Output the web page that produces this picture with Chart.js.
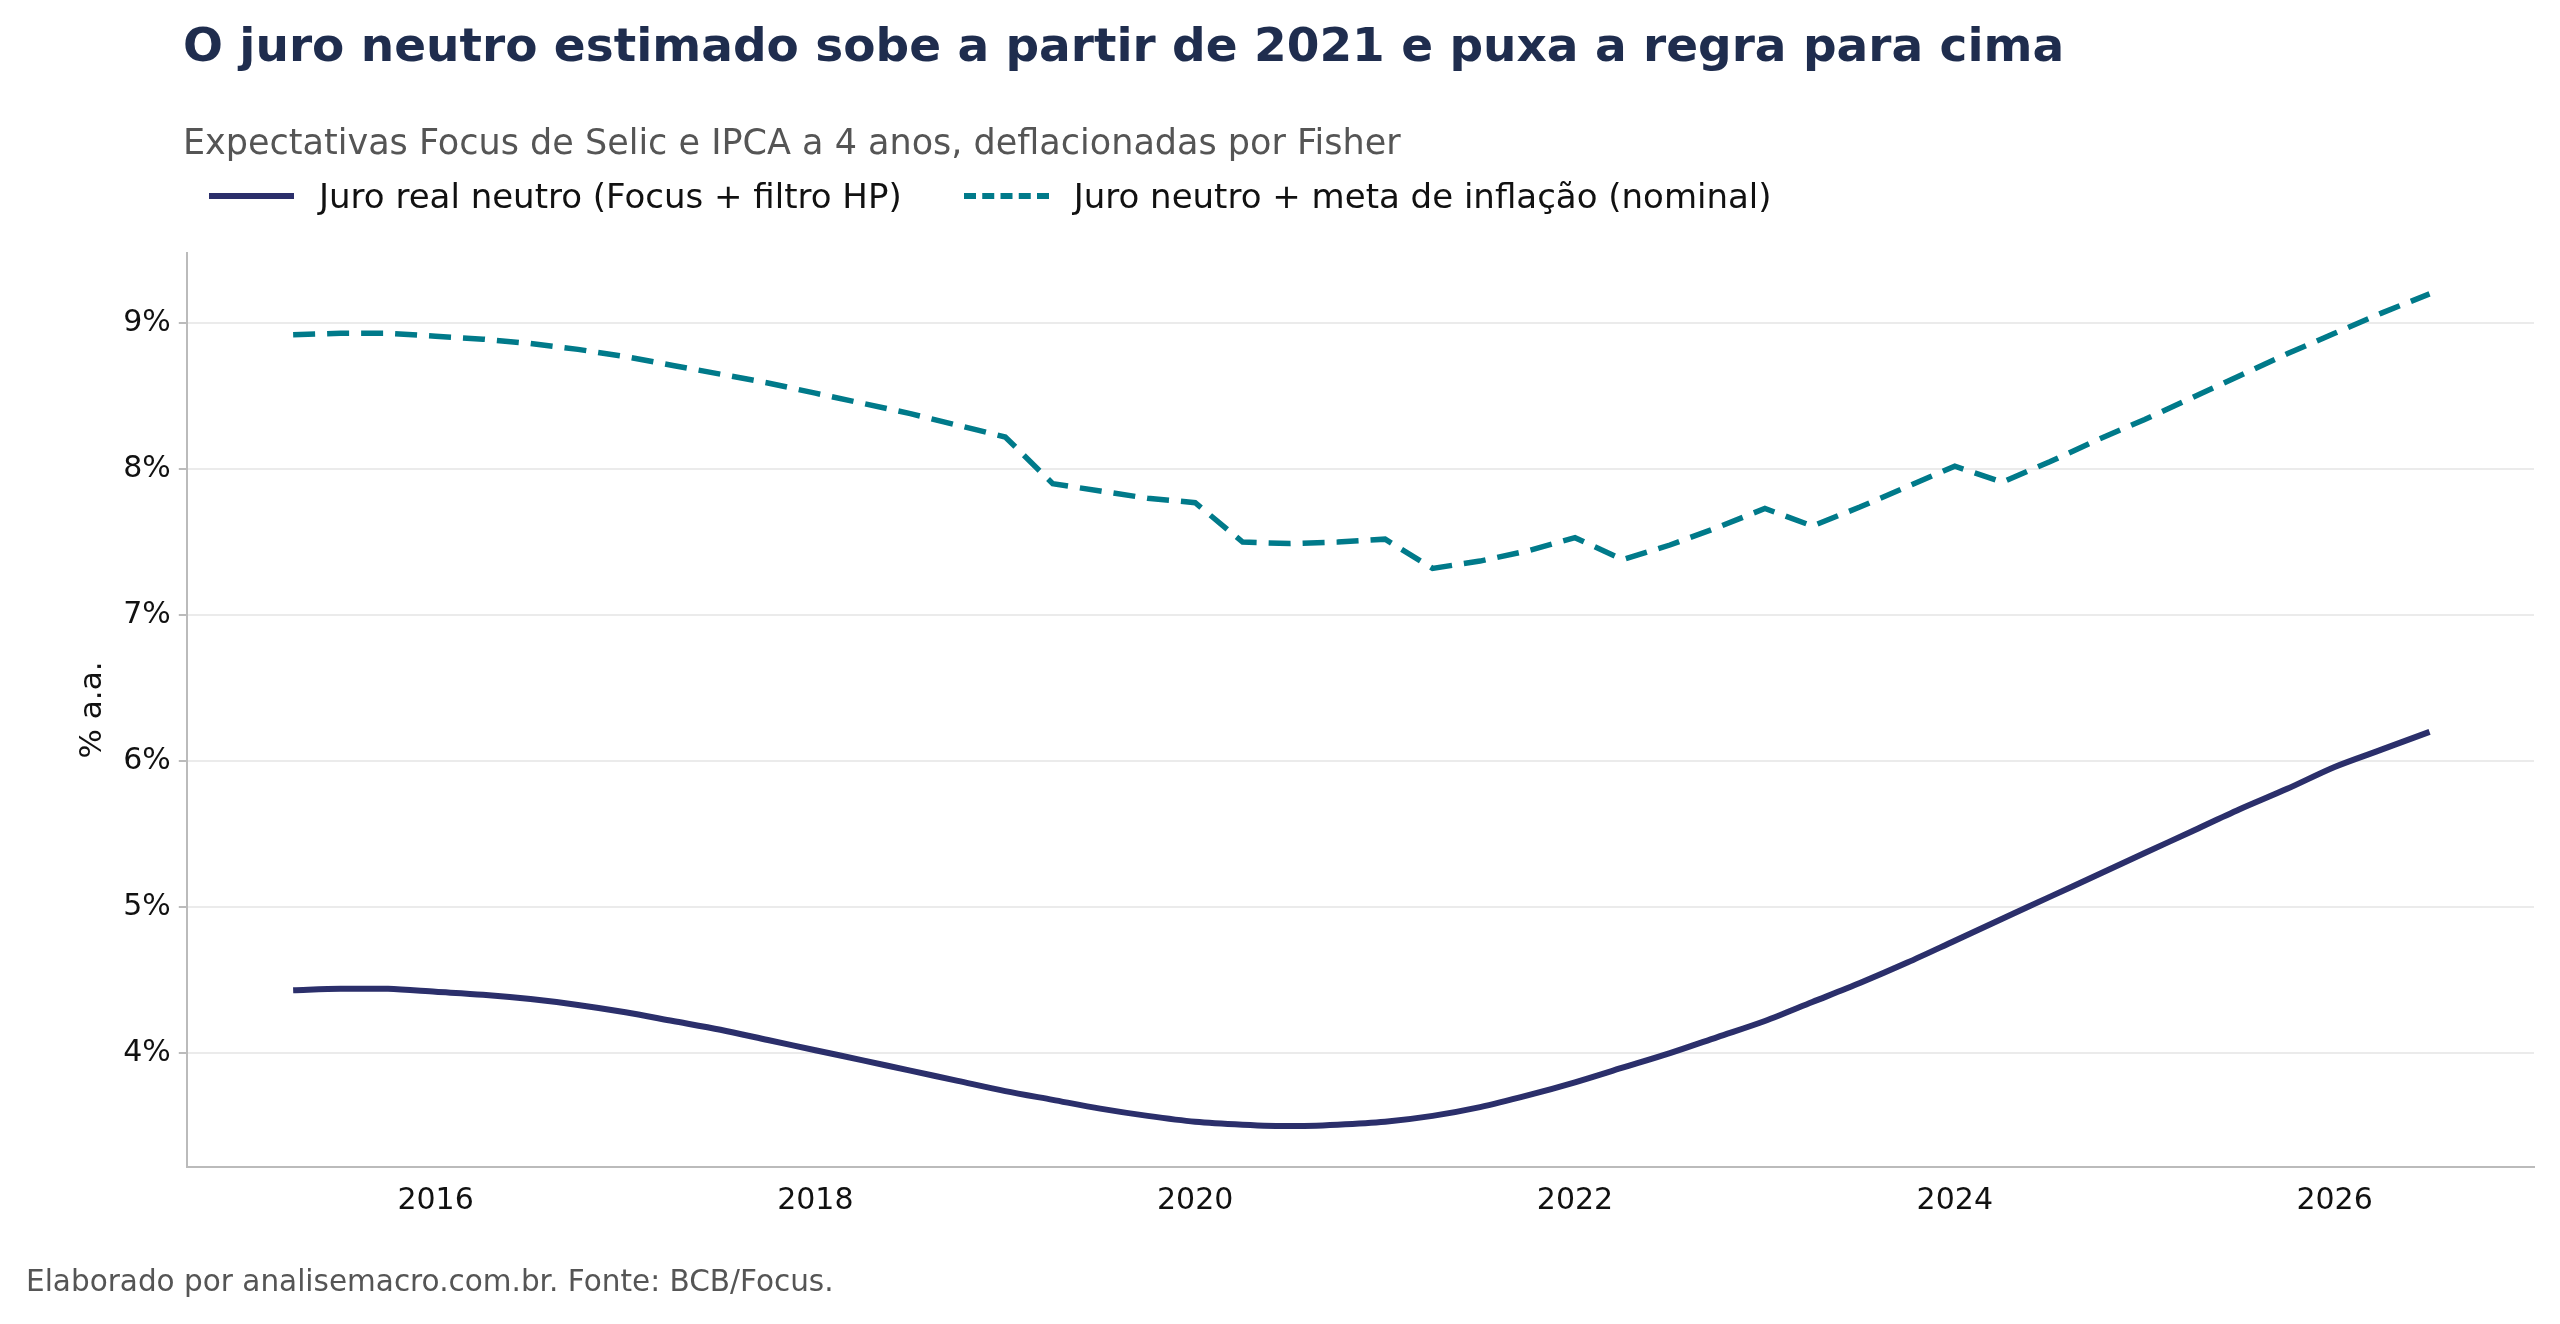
<!DOCTYPE html>
<html><head><meta charset="utf-8">
<script src="https://cdn.jsdelivr.net/npm/chart.js@4"></script>
<style>
body{margin:0;background:#fff;font-family:"DejaVu Sans",sans-serif;}
#wrap{position:relative;width:2560px;height:1324px;}
canvas{position:absolute;left:0;top:0;}
.t{position:absolute;white-space:nowrap;}
#title{left:183px;top:17px;font-size:47px;font-weight:bold;color:#1f2d4e;}
#sub{left:183px;top:122px;font-size:35px;color:#555;}
#leg{left:209px;top:176px;font-size:34px;color:#111;display:flex;align-items:center;}
.sw{display:inline-block;width:85px;height:0;margin-right:25px;}
#foot{left:26px;top:1264px;font-size:29.5px;color:#555;}
</style></head><body>
<div id="wrap">
<canvas id="c" width="2560" height="1324"></canvas>
<div class="t" id="title">O juro neutro estimado sobe a partir de 2021 e puxa a regra para cima</div>
<div class="t" id="sub">Expectativas Focus de Selic e IPCA a 4 anos, deflacionadas por Fisher</div>
<div class="t" id="leg"><span class="sw" style="border-top:6px solid #2b2f6b"></span>Juro real neutro (Focus + filtro HP)<span style="width:62px;display:inline-block"></span><span class="sw" style="border-top:6px dashed #007a8a"></span>Juro neutro + meta de inflação (nominal)</div>
<div class="t" id="foot">Elaborado por analisemacro.com.br. Fonte: BCB/Focus.</div>
</div>
<script>
const quarters = [2015.25,2015.5,2015.75,2016,2016.25,2016.5,2016.75,2017,2017.25,2017.5,2017.75,2018,2018.25,2018.5,2018.75,2019,2019.25,2019.5,2019.75,2020,2020.25,2020.5,2020.75,2021,2021.25,2021.5,2021.75,2022,2022.25,2022.5,2022.75,2023,2023.25,2023.5,2023.75,2024,2024.25,2024.5,2024.75,2025,2025.25,2025.5,2025.75,2026,2026.25,2026.5];
const neutralReal = [4.43,4.44,4.44,4.42,4.40,4.37,4.33,4.28,4.22,4.16,4.09,4.02,3.95,3.88,3.81,3.74,3.68,3.62,3.57,3.53,3.51,3.50,3.51,3.53,3.57,3.63,3.71,3.80,3.90,4.00,4.11,4.22,4.35,4.48,4.62,4.77,4.92,5.07,5.22,5.37,5.52,5.67,5.81,5.96,6.08,6.20];
const neutralNominal = [8.92,8.93,8.93,8.91,8.89,8.86,8.82,8.77,8.71,8.65,8.59,8.52,8.45,8.38,8.30,8.22,7.90,7.85,7.80,7.77,7.50,7.49,7.50,7.52,7.32,7.37,7.44,7.53,7.38,7.48,7.60,7.73,7.61,7.74,7.88,8.02,7.91,8.05,8.20,8.34,8.49,8.64,8.79,8.93,9.07,9.20];
const xTicks = [2016,2018,2020,2022,2024,2026];
const yTicks = [4,5,6,7,8,9];
const pts = a => a.map((v,i)=>({x:quarters[i],y:v}));
new Chart(document.getElementById('c'),{
 type:'line',
 data:{datasets:[
  {data:pts(neutralReal),borderColor:'#2b2f6b',borderWidth:6,pointRadius:0,tension:0.3},
  {data:pts(neutralNominal),borderColor:'#007a8a',borderWidth:5.5,borderDash:[22,12],pointRadius:0,tension:0}
 ]},
 options:{responsive:false,animation:false,devicePixelRatio:1,
  layout:{padding:{left:70,right:26,top:253,bottom:97}},
  plugins:{legend:{display:false},tooltip:{enabled:false}},
  scales:{
   x:{type:'linear',min:2014.69,max:2027.05,
      afterBuildTicks:s=>{s.ticks=xTicks.map(v=>({value:v}));},
      ticks:{font:{size:30,family:'DejaVu Sans'},color:'#111',padding:8,callback:v=>String(v)},
      grid:{display:false,drawTicks:true,tickLength:8,color:'#bbb'},
      border:{color:'#bbb',width:2}},
   y:{min:3.22,max:9.48,
      afterBuildTicks:s=>{s.ticks=yTicks.map(v=>({value:v}));},
      ticks:{font:{size:30,family:'DejaVu Sans'},color:'#111',padding:8,callback:v=>v+'%'},
      grid:{color:'#ebebeb',lineWidth:2,tickLength:8,drawTicks:true,tickColor:'#bbb'},
      border:{color:'#bbb',width:2},
      title:{display:true,text:'% a.a.',font:{size:31,family:'DejaVu Sans'},color:'#111'}}
  }}
});
</script></body></html>
